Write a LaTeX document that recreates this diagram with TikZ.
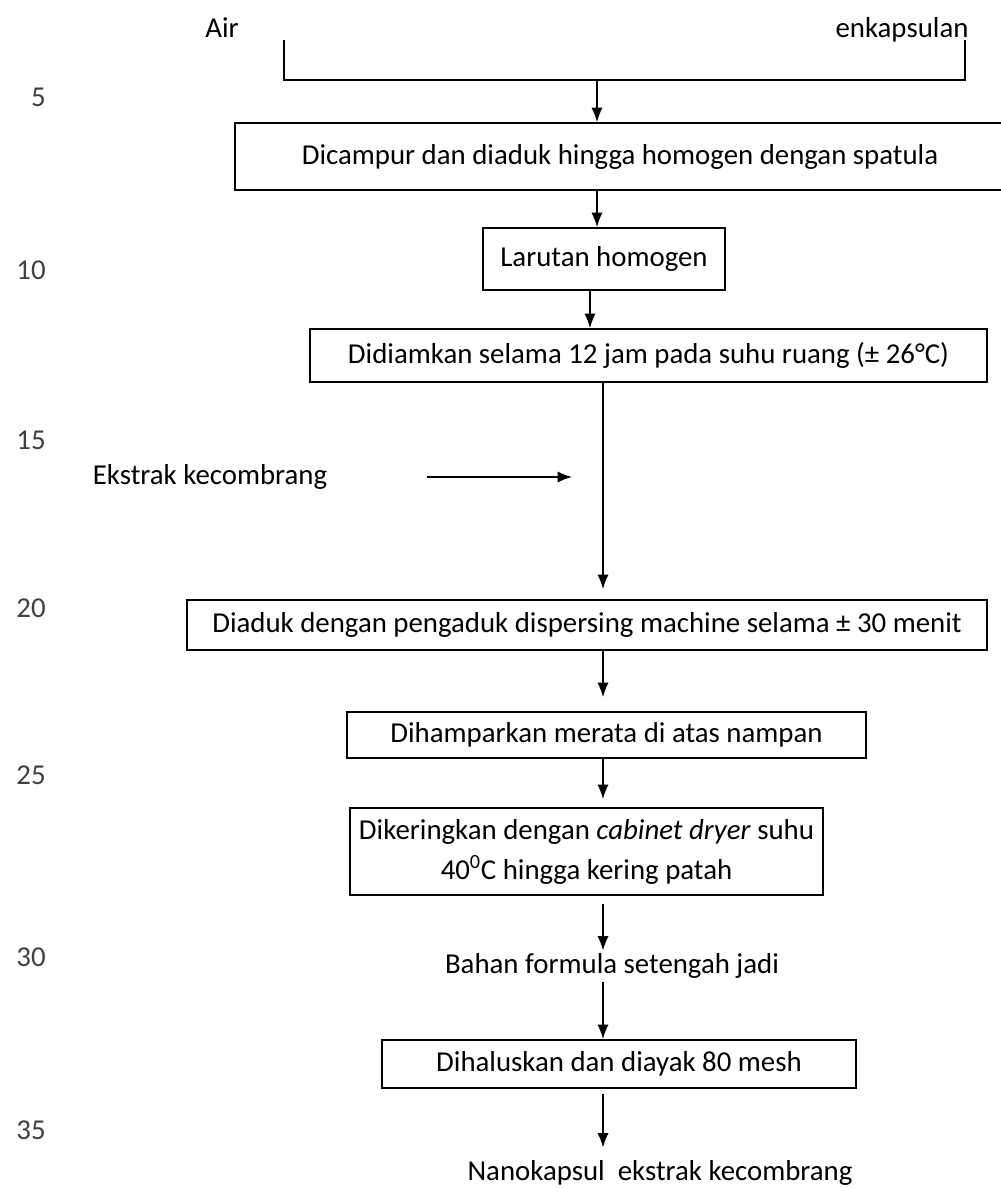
\documentclass[tikz,border=0pt]{standalone}
\usepackage{fontspec}
\setmainfont{Carlito}
\usetikzlibrary{arrows.meta}
\tikzset{
    box/.style 2 args={draw,line width=1.3pt,minimum width=#1*\px,minimum height=#2*\px,inner sep=2pt,align=center},
    lbl/.style={inner sep=2pt,align=center},
    lnum/.style={anchor=east,inner sep=0pt,text=black!75},
    conn/.style={line width=1pt},
    arr/.style={line width=1pt,-{Latex[length=3.6mm,width=2.8mm]}}
}
\def\px{0.025cm}

\begin{document}
\begin{tikzpicture}[x=0.025cm,y=-0.025cm,font=\fontsize{20.5}{28.5}\selectfont]
  \useasboundingbox (0,0) rectangle (1000,1188);

  % Line numbers
  \foreach \n/\y in {5/97,10/270,15/440,20/608,25/775,30/957,35/1130}
    \node[lnum] (ln\n) at (46,\y) {\n};

  % Inputs
  \node[lbl] (air) at (222,28) {Air};
  \node[lbl] (enk) at (902,30) {enkapsulan};
  \coordinate (airt) at (284,40);
  \coordinate (airb) at (284,80);
  \coordinate (enkt) at (965,40);
  \coordinate (enkb) at (965,80);
  \coordinate (fork) at (597,80);
  \draw[conn] (airt) -- (airb) -- (enkb) -- (enkt);

  % Steps
  \node[box={770}{67}] (b1) at (620,156.5) {Dicampur dan diaduk hingga homogen dengan spatula};
  \node[box={242}{62}] (b2) at (604,259) {Larutan homogen};
  \node[box={677}{53}] (b3) at (648.5,355.5) {Didiamkan selama 12 jam pada suhu ruang (± 26°C)};
  \node[lbl] (ek) at (210,477) {Ekstrak kecombrang};
  \coordinate (join) at (572,477);
  \node[box={800}{50}] (b4) at (587,625) {Diaduk dengan pengaduk dispersing machine selama ± 30 menit};
  \node[box={519}{46}] (b5) at (606.5,735) {Dihamparkan merata di atas nampan};
  \node[box={473}{87}] (b6) at (586.5,851.5) {Dikeringkan dengan \textit{cabinet dryer} suhu\\40\textsuperscript{0}C hingga kering patah};
  \node[lbl] (t1) at (612,966) {Bahan formula setengah jadi};
  \node[box={474}{48}] (b7) at (619,1064) {Dihaluskan dan diayak 80 mesh};
  \node[lbl] (t2) at (660,1173) {Nanokapsul\ \ ekstrak kecombrang};

  % Arrows
  \coordinate (sA) at (597,0);
  \coordinate (sB) at (590,0);
  \coordinate (sC) at (603,0);
  \draw[arr] (fork) -- (b1.north -| sA);
  \draw[arr] (b1.south -| sA) -- (b2.north -| sA);
  \draw[arr] (b2.south -| sB) -- (b3.north -| sB);
  \draw[arr,shorten >=10*\px] (b3.south -| sC) -- (b4.north -| sC);
  \draw[arr,shorten <=97*\px] (ek) -- (join);
  \draw[arr,shorten >=14*\px] (b4.south -| sC) -- (b5.north -| sC);
  \draw[arr,shorten >=8*\px] (b5.south -| sC) -- (b6.north -| sC);
  \draw[arr,shorten <=8*\px] (b6.south -| sC) -- (t1.north -| sC);
  \draw[arr] (t1.south -| sC) -- (b7.north -| sC);
  \draw[arr,shorten <=5*\px,shorten >=10*\px] (b7.south -| sC) -- (t2.north -| sC);
\end{tikzpicture}
\end{document}
